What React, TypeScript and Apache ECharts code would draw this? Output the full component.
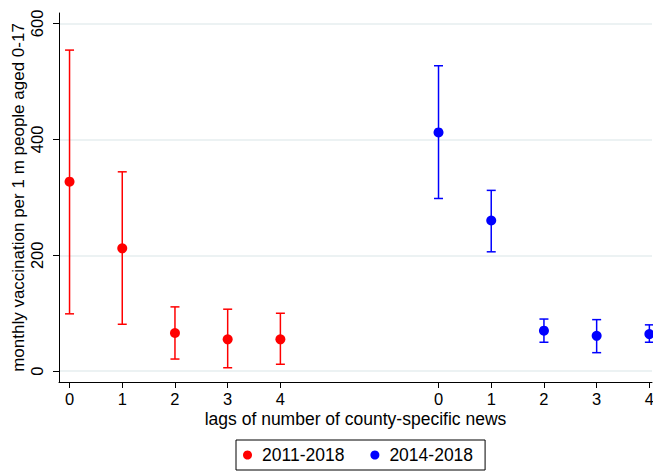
import React, { useEffect, useRef } from "react";
import * as echarts from "echarts";

const lags = [0, 1, 2, 3, 4];
const blueOffset = 7;
const redMean = [327, 212, 66, 55, 55];
const redLow = [99, 81, 21, 6, 12];
const redHigh = [554, 344, 111, 107, 100];
const blueMean = [412, 260, 70, 61, 64];
const blueLow = [298, 206, 50, 32, 50];
const blueHigh = [527, 312, 90, 89, 80];
const yTicks = [0, 200, 400, 600];
const seriesNames = ["2011-2018", "2014-2018"];

const FONT = "Liberation Sans, Arial, sans-serif";

function errorBars(name: string, color: string, offset: number, lo: number[], hi: number[]) {
  return {
    type: "custom",
    name: name + "-ci",
    silent: true,
    z: 2,
    data: lags.map((l, i) => [l + offset, lo[i], hi[i]]),
    renderItem: (params: any, api: any) => {
      const x = api.value(0);
      const p1 = api.coord([x, api.value(1)]);
      const p2 = api.coord([x, api.value(2)]);
      const w = 4.5;
      const style = { stroke: color, lineWidth: 1.5 };
      return {
        type: "group",
        children: [
          { type: "line", shape: { x1: p1[0], y1: p1[1], x2: p2[0], y2: p2[1] }, style },
          { type: "line", shape: { x1: p1[0] - w, y1: p1[1], x2: p1[0] + w, y2: p1[1] }, style },
          { type: "line", shape: { x1: p2[0] - w, y1: p2[1], x2: p2[0] + w, y2: p2[1] }, style },
        ],
      };
    },
  };
}

export default function App() {
  const ref = useRef<HTMLDivElement>(null);
  useEffect(() => {
    const chart = echarts.init(ref.current!, null, { renderer: "svg" });
    const xTicks = [...lags, ...lags.map((l) => l + blueOffset)];
    chart.setOption({
      animation: false,
      textStyle: { fontFamily: FONT },
      grid: { left: 59, right: 1, top: 13, bottom: 89, containLabel: false, outerBoundsMode: "none" },
      legend: {
        data: seriesNames,
        left: 236,
        top: 440,
        borderColor: "#000",
        borderWidth: 1,
        borderRadius: 0,
        padding: [6, 12, 6, 7],
        itemWidth: 9,
        itemHeight: 9,
        itemGap: 26,
        icon: "circle",
        itemStyle: { opacity: 1 },
        textStyle: { fontSize: 17.5, color: "#000", fontFamily: FONT, padding: [0, 0, 0, 5] },
      },
      xAxis: {
        type: "value",
        min: -0.2,
        max: 11.05,
        name: "lags of number of county-specific news",
        nameLocation: "middle",
        nameGap: 28,
        nameMoveOverlap: false,
        nameTextStyle: { fontSize: 17.5, color: "#000", fontFamily: FONT },
        axisLine: { show: true, onZero: false, lineStyle: { color: "#000", width: 1 } },
        axisTick: { show: true, length: 6, customValues: xTicks, lineStyle: { color: "#000" } },
        axisLabel: {
          customValues: xTicks,
          margin: 8,
          fontSize: 16.5,
          color: "#000",
          fontFamily: FONT,
          formatter: (v: number) => String(v >= blueOffset ? v - blueOffset : v),
        },
        splitLine: { show: false },
      },
      yAxis: {
        type: "value",
        min: -18.6,
        max: 618,
        name: "monthly vaccination per 1 m people aged 0-17",
        nameLocation: "middle",
        nameGap: 32,
        nameMoveOverlap: false,
        nameTextStyle: { fontSize: 17, color: "#000", fontFamily: FONT },
        axisLine: { show: true, onZero: false, lineStyle: { color: "#000", width: 1 } },
        axisTick: { show: true, length: 6, customValues: yTicks, lineStyle: { color: "#000" } },
        axisLabel: {
          customValues: yTicks,
          rotate: 90,
          margin: 14,
          fontSize: 16.5,
          color: "#000",
          fontFamily: FONT,
        },
        splitLine: { show: true, lineStyle: { color: "#e6eeef", width: 1.5 } },
      },
      series: [
        errorBars(seriesNames[0], "#ff0000", 0, redLow, redHigh),
        errorBars(seriesNames[1], "#0000ff", blueOffset, blueLow, blueHigh),
        {
          type: "scatter",
          name: seriesNames[0],
          symbol: "circle",
          symbolSize: 10,
          z: 3,
          itemStyle: { color: "#ff0000", opacity: 1 },
          data: lags.map((l, i) => [l, redMean[i]]),
        },
        {
          type: "scatter",
          name: seriesNames[1],
          symbol: "circle",
          symbolSize: 10,
          z: 3,
          itemStyle: { color: "#0000ff", opacity: 1 },
          data: lags.map((l, i) => [l + blueOffset, blueMean[i]]),
        },
      ],
    });
    return () => chart.dispose();
  }, []);
  return (
    <div
      ref={ref}
      style={{ position: "absolute", left: 0, top: 0, width: 653, height: 471, background: "#fff" }}
    />
  );
}
